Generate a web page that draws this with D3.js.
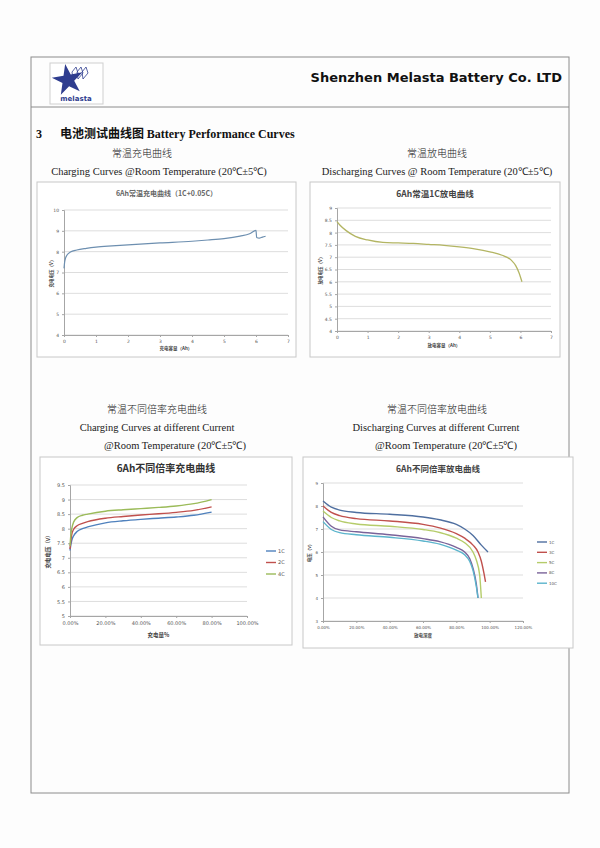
<!DOCTYPE html>
<html>
<head>
<meta charset="utf-8">
<script src="https://cdn.jsdelivr.net/npm/d3@7"></script>
<style>
  body { margin: 0; background: #fdfdfd; }
  svg text { font-family: "Liberation Serif", "Noto Sans CJK SC", serif; }
</style>
</head>
<body>
<svg id="page" width="600" height="848"></svg>
<script>

// chart 1: charging 1C+0.05C (Ah vs V)
let chgCap = [0, 0.02, 0.05, 0.1, 0.2, 0.4, 0.7, 1, 1.5, 2, 3, 4, 4.5, 5, 5.5, 5.8, 6.0, 6.02, 6.1, 6.2, 6.3];
let chgVolt = [7.2, 7.5, 7.7, 7.85, 7.98, 8.08, 8.16, 8.22, 8.28, 8.33, 8.42, 8.5, 8.56, 8.63, 8.75, 8.86, 9.02, 8.68, 8.65, 8.7, 8.74];

// chart 2: discharging 1C (Ah vs V)
let disCap = [0, 0.1, 0.3, 0.6, 1, 1.5, 2, 2.5, 3, 3.5, 4, 4.5, 5, 5.4, 5.7, 5.85, 5.95, 6.05];
let disVolt = [8.45, 8.3, 8.08, 7.85, 7.7, 7.6, 7.58, 7.56, 7.52, 7.48, 7.42, 7.34, 7.22, 7.08, 6.88, 6.65, 6.38, 6.0];

// chart 3: charging at different current (% vs V)
let rateChgNames = ["1C", "2C", "4C"];
let rateChgPct = [0, 0.005, 0.01, 0.02, 0.04, 0.07, 0.1, 0.2, 0.3, 0.4, 0.5, 0.6, 0.7, 0.8];
let rateChgVolt = [
  [7.25, 7.45, 7.6, 7.75, 7.9, 8.0, 8.06, 8.2, 8.27, 8.32, 8.36, 8.4, 8.46, 8.57],
  [7.3, 7.6, 7.8, 7.97, 8.1, 8.18, 8.24, 8.36, 8.42, 8.47, 8.51, 8.56, 8.63, 8.75],
  [7.4, 7.8, 8.0, 8.22, 8.38, 8.46, 8.5, 8.6, 8.65, 8.69, 8.73, 8.78, 8.86, 9.0]
];

// chart 4: discharging at different current (% vs V)
let rateDisNames = ["1C", "3C", "5C", "8C", "10C"];
let rateDisPct = [
  [0, 0.05, 0.1, 0.2, 0.4, 0.6, 0.7, 0.8, 0.85, 0.9, 0.95, 0.99],
  [0, 0.05, 0.1, 0.2, 0.4, 0.6, 0.7, 0.8, 0.85, 0.9, 0.93, 0.95, 0.965, 0.975],
  [0, 0.05, 0.1, 0.2, 0.4, 0.6, 0.7, 0.8, 0.85, 0.9, 0.92, 0.94, 0.95],
  [0, 0.05, 0.1, 0.2, 0.4, 0.6, 0.7, 0.8, 0.85, 0.88, 0.9, 0.92, 0.93],
  [0, 0.05, 0.1, 0.2, 0.4, 0.6, 0.7, 0.8, 0.85, 0.88, 0.9, 0.92, 0.93]
];
let rateDisVolt = [
  [8.22, 7.95, 7.82, 7.72, 7.64, 7.52, 7.4, 7.2, 7.0, 6.72, 6.3, 6.0],
  [8.0, 7.72, 7.58, 7.45, 7.35, 7.2, 7.05, 6.8, 6.6, 6.3, 6.0, 5.6, 5.1, 4.7],
  [7.78, 7.5, 7.35, 7.22, 7.12, 6.98, 6.85, 6.6, 6.4, 6.0, 5.65, 5.0, 4.0],
  [7.53, 7.12, 6.96, 6.88, 6.75, 6.58, 6.45, 6.2, 6.0, 5.72, 5.3, 4.6, 4.0],
  [7.32, 6.98, 6.84, 6.75, 6.64, 6.48, 6.34, 6.08, 5.88, 5.6, 5.2, 4.5, 4.0]
];

let svg = d3.select("svg#page");

// page frame
svg.append("rect").attr("x", 31).attr("y", 57).attr("width", 538).attr("height", 736)
  .attr("fill", "none").attr("stroke", "#8c8c8c").attr("stroke-width", 1);
svg.append("line").attr("x1", 31).attr("x2", 569).attr("y1", 107).attr("y2", 107)
  .attr("stroke", "#8c8c8c");

// logo
let logo = svg.append("g");
logo.append("rect").attr("x", 50).attr("y", 63).attr("width", 53).attr("height", 41)
  .attr("fill", "#fff").attr("stroke", "#cfcfcf");
logo.append("path").attr("d", d3.symbol(d3.symbolStar, 300)())
  .attr("transform", "translate(68,80) rotate(-10)").attr("fill", "#2f3d8f");
[0, 5, 10].forEach(function(d) {
  logo.append("path").attr("d", "M" + (72 + d) + ",72 l4,-5 l2,6 l-5,6 z")
    .attr("fill", "none").attr("stroke", "#2f3d8f").attr("stroke-width", 0.8);
});
logo.append("text").attr("x", 76).attr("y", 101).attr("text-anchor", "middle")
  .style("font-family", "DejaVu Sans").style("font-size", "7px").style("font-weight", "bold")
  .attr("fill", "#2f3d8f").text("melasta");

svg.append("text").attr("x", 562).attr("y", 82).attr("text-anchor", "end")
  .style("font-family", "'DejaVu Sans', sans-serif").style("font-size", "13px").style("font-weight", "bold")
  .attr("fill", "#111").text("Shenzhen Melasta Battery Co. LTD");

// section heading
svg.append("text").attr("x", 36).attr("y", 138).style("font-size", "12px").style("font-weight", "bold")
  .attr("fill", "#111").text("3");
svg.append("text").attr("x", 60).attr("y", 138).style("font-size", "12px").style("font-weight", "bold")
  .attr("fill", "#111")
  .call(function(t) {
    t.append("tspan").style("font-family", "'Noto Sans CJK SC'").text("电池测试曲线图 ");
    t.append("tspan").text(" Battery Performance Curves");
  });

function caption(x, y, lines) {
  lines.forEach(function(s, i) {
    svg.append("text").attr("x", x[i]).attr("y", y + i * 18).attr("text-anchor", "middle")
      .style("font-size", i == 0 ? "10px" : "10.5px").attr("fill", "#222")
      .style("font-family", i == 0 ? "'Noto Sans CJK SC'" : "'Liberation Serif'")
      .style("font-weight", i == 0 ? 300 : 400)
      .text(s);
  });
}
caption([142, 159], 157, ["常温充电曲线", "Charging Curves @Room Temperature (20℃±5℃)"]);
caption([437, 437], 157, ["常温放电曲线", "Discharging Curves @ Room Temperature (20℃±5℃)"]);
caption([157, 157, 175], 413, ["常温不同倍率充电曲线", "Charging Curves at different Current", "@Room Temperature (20℃±5℃)"]);
caption([437, 436, 446], 413, ["常温不同倍率放电曲线", "Discharging Curves at different Current", "@Room Temperature (20℃±5℃)"]);

function chart(o) {
  let g = svg.append("g");
  g.append("rect").attr("x", o.box[0]).attr("y", o.box[1]).attr("width", o.box[2]).attr("height", o.box[3])
    .attr("fill", "#fff").attr("stroke", "#c8c8c8");

  let x = d3.scaleLinear().domain(o.xDomain).range([o.plot[0], o.plot[1]]);
  let y = d3.scaleLinear().domain(o.yDomain).range([o.plot[3], o.plot[2]]);

  // grid
  g.selectAll(".grid").data(o.yTicks).enter().append("line")
    .attr("x1", o.plot[0]).attr("x2", o.plot[1])
    .attr("y1", function(d) { return y(d); }).attr("y2", function(d) { return y(d); })
    .attr("stroke", "#d4d4d4").attr("stroke-width", 0.8);

  let ya = g.append("g").attr("transform", "translate(" + o.plot[0] + ",0)")
    .call(d3.axisLeft(y).tickValues(o.yTicks).tickSize(2).tickFormat(o.yFmt || d3.format("")));
  let xa = g.append("g").attr("transform", "translate(0," + o.plot[3] + ")")
    .call(d3.axisBottom(x).tickValues(o.xTicks).tickSize(2).tickFormat(o.xFmt || d3.format("")));
  [ya, xa].forEach(function(a) {
    a.select(".domain").attr("stroke", "#a6a6a6");
    a.selectAll(".tick line").attr("stroke", "#a6a6a6");
    a.selectAll("text").style("font-family", "'DejaVu Sans'").style("font-size", o.tickSize + "px").attr("fill", "#555");
  });

  let line = d3.line().curve(d3.curveMonotoneX)
    .x(function(d) { return x(d[0]); }).y(function(d) { return y(d[1]); });
  o.series.forEach(function(s) {
    g.append("path").datum(d3.zip(s.x, s.y)).attr("d", line)
      .attr("fill", "none").attr("stroke", s.color).attr("stroke-width", o.lineWidth || 1.4);
  });

  g.append("text").attr("x", (o.box[0] + o.box[0] + o.box[2]) / 2).attr("y", o.titleY).attr("text-anchor", "middle")
    .style("font-family", "'Noto Sans CJK SC'").style("font-size", o.titleSize + "px").style("font-weight", "bold")
    .attr("fill", o.titleColor || "#404040").text(o.title);
  g.append("text").attr("x", (o.plot[0] + o.plot[1]) / 2).attr("y", o.xLabelY).attr("text-anchor", "middle")
    .style("font-family", "'Noto Sans CJK SC'").style("font-size", o.labelSize + "px").style("font-weight", "bold")
    .attr("fill", "#444").text(o.xLabel);
  g.append("text").attr("transform", "translate(" + o.yLabelX + "," + (o.plot[2] + o.plot[3]) / 2 + ") rotate(-90)")
    .attr("text-anchor", "middle")
    .style("font-family", "'Noto Sans CJK SC'").style("font-size", o.labelSize + "px").style("font-weight", "bold")
    .attr("fill", "#444").text(o.yLabel);

  if (o.legend) {
    o.series.forEach(function(s, i) {
      let ly = o.legend[1] + i * o.legend[2];
      g.append("line").attr("x1", o.legend[0]).attr("x2", o.legend[0] + 10).attr("y1", ly).attr("y2", ly)
        .attr("stroke", s.color).attr("stroke-width", 1.4);
      g.append("text").attr("x", o.legend[0] + 12).attr("y", ly + 1.5)
        .style("font-family", "'DejaVu Sans'").style("font-size", o.tickSize + "px").attr("fill", "#555").text(s.name);
    });
  }
}

chart({
  box: [37, 182, 259, 175], plot: [64, 288, 210, 335],
  xDomain: [0, 7], yDomain: [4, 10], xTicks: d3.range(0, 8), yTicks: d3.range(4, 11),
  tickSize: 4.5, title: "6Ah常温充电曲线（1C+0.05C）", titleY: 196, titleSize: 7, titleColor: "#666",
  xLabel: "充电容量（Ah）", xLabelY: 350, yLabel: "充电电压（V）", yLabelX: 53, labelSize: 4.5,
  series: [{ name: "", x: chgCap, y: chgVolt, color: "#6d8fb0" }], lineWidth: 1.2
});

chart({
  box: [310, 182, 250, 175], plot: [337, 551, 208, 331],
  xDomain: [0, 7], yDomain: [4, 9], xTicks: d3.range(0, 8), yTicks: d3.range(4, 9.01, 0.5),
  tickSize: 4.5, title: "6Ah常温1C放电曲线", titleY: 197, titleSize: 8.5, titleColor: "#444",
  xLabel: "放电容量（Ah）", xLabelY: 347, yLabel: "放电电压（V）", yLabelX: 322, labelSize: 4.5,
  series: [{ name: "", x: disCap, y: disVolt, color: "#b3b563" }], lineWidth: 1.3
});

chart({
  box: [40, 457, 252, 188], plot: [70, 247, 485, 616],
  xDomain: [0, 1], yDomain: [5, 9.5], xTicks: d3.range(0, 1.01, 0.2), yTicks: d3.range(5, 9.51, 0.5),
  xFmt: d3.format(".2%"),
  tickSize: 5, title: "6Ah不同倍率充电曲线", titleY: 472, titleSize: 10, titleColor: "#333",
  xLabel: "充电量%", xLabelY: 637, yLabel: "充电电压（v）", yLabelX: 50, labelSize: 5.5,
  series: rateChgNames.map(function(n, i) {
    return { name: n, x: rateChgPct, y: rateChgVolt[i], color: ["#4f81bd", "#c0504d", "#9bbb59"][i] };
  }),
  legend: [266, 551, 11.5]
});

chart({
  box: [303, 457, 270, 191], plot: [323, 523, 483, 621],
  xDomain: [0, 1.2], yDomain: [3, 9], xTicks: d3.range(0, 1.21, 0.2), yTicks: d3.range(3, 9.01, 1),
  xFmt: d3.format(".2%"),
  tickSize: 4, title: "6Ah不同倍率放电曲线", titleY: 472, titleSize: 8.5, titleColor: "#444",
  xLabel: "放电深度", xLabelY: 637, yLabel: "电压（v）", yLabelX: 311, labelSize: 4.5,
  series: rateDisNames.map(function(n, i) {
    return { name: n, x: rateDisPct[i], y: rateDisVolt[i], color: ["#4f6fa0", "#c0504d", "#b5cc6a", "#7a6399", "#5bb4cc"][i] };
  }),
  legend: [537, 542, 10.3]
});

</script>
</body>
</html>
